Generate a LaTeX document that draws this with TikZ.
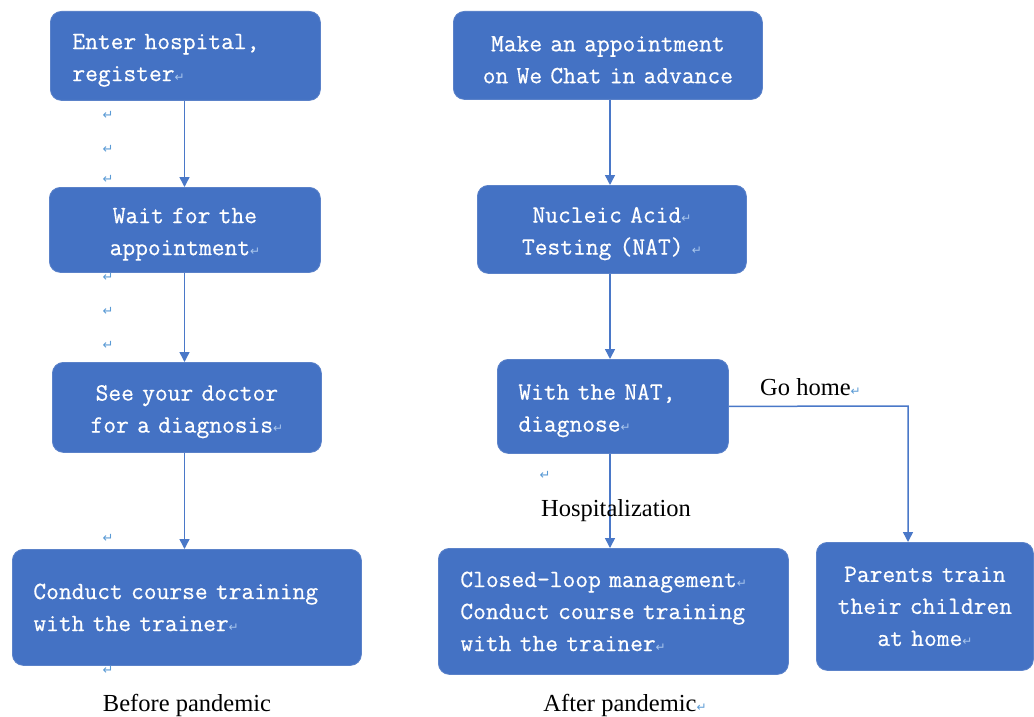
\documentclass[tikz,border=0pt]{standalone}
\usepackage{fontspec}
\setmainfont{Liberation Serif}
\newfontfamily\boxmono{Latin Modern Mono}[FakeBold=0.6]
\newfontfamily\symfont{DejaVu Sans}
\usetikzlibrary{arrows.meta}
\definecolor{boxblue}{HTML}{4472C4}
\definecolor{boxedge}{HTML}{5B82C9}
\definecolor{lineblue}{HTML}{4A78C8}
\definecolor{markin}{HTML}{A9C6EC}
\definecolor{markout}{HTML}{5B9BD5}
\newcommand\boxfont{\boxmono\fontsize{24.8}{32}\selectfont}
\newcommand\lblfont{\rmfamily\fontsize{24.5}{28}\selectfont}
\newcommand\rin{{\symfont\fontsize{12}{12}\selectfont\textcolor{markin}{↵}}}
\newcommand\rout{{\symfont\fontsize{12}{12}\selectfont\textcolor{markout}{↵}}}
\newcommand\tp{\rule{0pt}{24pt}}
\tikzset{
  stepbox/.style={rectangle, rounded corners=11pt, fill=boxblue, draw=boxedge,
    line width=0.8pt, text=white, font=\boxfont, inner ysep=0pt, anchor=north west},
  flow/.style={draw=lineblue, line width=1.5pt, -{Triangle[width=10pt,length=10pt]}},
  lbl/.style={font=\lblfont, text=black, inner sep=0pt},
  retmk/.style={font=\symfont\fontsize{13}{13}\selectfont, text=markout, inner sep=0pt}
}
\begin{document}
\begin{tikzpicture}[x=1pt,y=-1pt]
\useasboundingbox (0,0) rectangle (1034,717);
\fill[white] (0,0) rectangle (1034,717);

% left column
\node[stepbox, minimum width=270pt, minimum height=89pt, inner xsep=22pt, text width=226pt, align=left] (b1) at (50,11) {\tp Enter hospital,\\register\rin};
\node[stepbox, minimum width=271pt, minimum height=85pt, inner xsep=10pt, text width=251pt, align=center] (b2) at (49,187) {\tp Wait for the\\appointment\rin};
\node[stepbox, minimum width=269pt, minimum height=90pt, inner xsep=10pt, text width=249pt, align=center] (b3) at (52,362) {\tp See your doctor\\for a diagnosis\rin};
\node[stepbox, minimum width=349pt, minimum height=116pt, inner xsep=21pt, text width=307pt, align=left] (b4) at (12,549) {Conduct course training\\with the trainer\rin};

% right column
\node[stepbox, minimum width=309pt, minimum height=88pt, inner xsep=10pt, text width=289pt, align=center] (r1) at (453,11) {\tp Make an appointment\\on We Chat in advance};
\node[stepbox, minimum width=269pt, minimum height=88pt, inner xsep=10pt, text width=249pt, align=center] (r2) at (477,185) {\tp Nucleic Acid\rin\\Testing (NAT) \rin};
\node[stepbox, minimum width=231pt, minimum height=94pt, inner xsep=21pt, text width=189pt, align=left] (r3) at (497,359) {\tp With the NAT,\\diagnose\rin};
\node[stepbox, minimum width=350pt, minimum height=126pt, inner xsep=22pt, text width=306pt, align=left] (r4) at (438,548) {Closed-loop management\rin\\Conduct course training\\with the trainer\rin};
\node[stepbox, minimum width=217pt, minimum height=128pt, inner xsep=8pt, text width=201pt, align=center] (r5) at (816,542) {Parents train\\their children\\at home\rin};

% connectors
\coordinate (c0) at (184.5,99);
\draw[flow] (b1.south -| c0) -- (c0 |- b2.north);
\draw[flow] (b2.south -| c0) -- (c0 |- b3.north);
\draw[flow] (b3.south -| c0) -- (c0 |- b4.north);
\coordinate (c1) at (610,99);
\draw[flow] (r1.south -| c1) -- (c1 |- r2.north);
\draw[flow] (r2.south -| c1) -- (c1 |- r3.north);
\draw[flow] (r3.south -| c1) -- (c1 |- r4.north);
\coordinate (gh) at (908,406);
\draw[flow] (r3.east) -- (gh) -- (gh |- r5.north);

% labels
\node[lbl, anchor=base west] (gohome) at (760,395) {Go home\rout};
\node[lbl, anchor=base west] (hosp) at (541,516) {Hospitalization};
\node[lbl, anchor=base] (before) at (187,711) {Before pandemic};
\node[lbl, anchor=base] (after) at (625,711) {After pandemic\rout};

% paragraph marks
\node[retmk] (m1) at (108,115) {↵};
\node[retmk] (m2) at (108,149) {↵};
\node[retmk] (m3) at (108,179) {↵};
\node[retmk] (m4) at (108,277) {↵};
\node[retmk] (m5) at (108,311) {↵};
\node[retmk] (m6) at (108,345) {↵};
\node[retmk] (m7) at (108,538) {↵};
\node[retmk] (m8) at (108,670) {↵};
\node[retmk] (m9) at (545,475) {↵};
\end{tikzpicture}
\end{document}
